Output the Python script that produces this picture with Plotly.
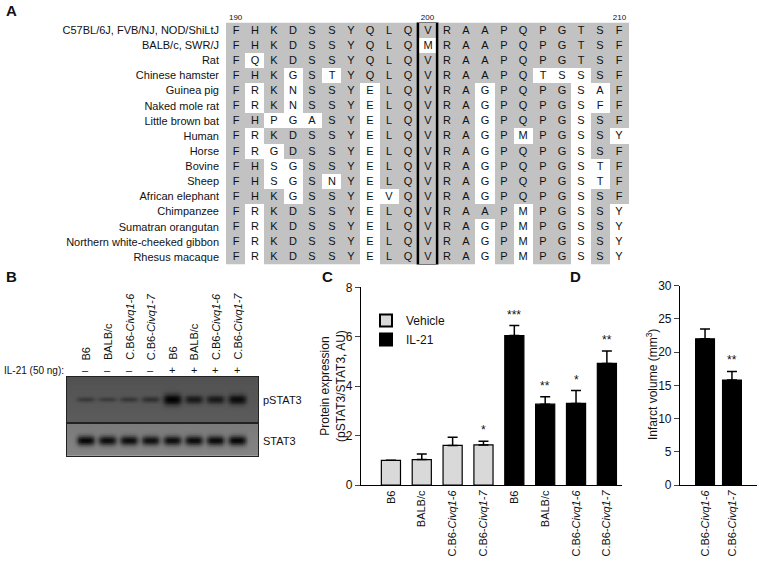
import numpy as np
import plotly.graph_objects as go

W, H = 759, 569
FONT = "Arial, Liberation Sans, sans-serif"

# ---------------- Panel A data ----------------
positions = list(range(190, 211))
pos_labels = ["190", "200", "210"]
species = [
    "C57BL/6J, FVB/NJ, NOD/ShiLtJ", "BALB/c, SWR/J", "Rat", "Chinese hamster",
    "Guinea pig", "Naked mole rat", "Little brown bat", "Human", "Horse",
    "Bovine", "Sheep", "African elephant", "Chimpanzee", "Sumatran orangutan",
    "Northern white-cheeked gibbon", "Rhesus macaque",
]
sequences = [
    "FHKDSSYQLQVRAAPQPGTSF",
    "FHKDSSYQLQMRAAPQPGTSF",
    "FQKDSSYQLQVRAAPQPGTSF",
    "FHKGSTYQLQVRAAPQTSSSF",
    "FRKNSSYELQVRAGPQPGSAF",
    "FRKNSSYELQVRAGPQPGSFF",
    "FHPGASYELQVRAGPQPGSSF",
    "FRKDSSYELQVRAGPMPGSSY",
    "FRGDSSYELQVRAGPQPGSSF",
    "FHSGSSYELQVRAGPQPGSTF",
    "FHSGSNYELQVRAGPQPGSTF",
    "FHKGSSYEVQVRAGPQPGSSF",
    "FRKDSSYELQVRAAPMPGSSY",
    "FRKDSSYELQVRAGPMPGSSY",
    "FRKDSSYELQVRAGPMPGSSY",
    "FRKDSSYELQVRAGPMPGSSY",
]
highlight_pos = 200

# ---------------- Panel B data ----------------
lane_labels = ["B6", "BALB/c", "C.B6-<i>Civq1-6</i>", "C.B6-<i>Civq1-7</i>",
               "B6", "BALB/c", "C.B6-<i>Civq1-6</i>", "C.B6-<i>Civq1-7</i>"]
il21_treat = ["–", "–", "–", "–", "+", "+", "+", "+"]
pstat3_intensity = [0.35, 0.32, 0.38, 0.45, 1.0, 0.72, 0.72, 0.88]
stat3_intensity = [0.95, 0.9, 0.9, 0.88, 0.9, 0.92, 0.92, 0.95]

# ---------------- Panel C data ----------------
c_labels = lane_labels
vehicle_vals = [1.0, 1.03, 1.6, 1.62]
vehicle_err = [0.0, 0.22, 0.33, 0.15]
vehicle_sig = ["", "", "", "*"]
il21_vals = [6.05, 3.27, 3.3, 4.92]
il21_err = [0.4, 0.3, 0.52, 0.5]
il21_sig = ["***", "**", "*", "**"]

# ---------------- Panel D data ----------------
d_labels = ["C.B6-<i>Civq1-6</i>", "C.B6-<i>Civq1-7</i>"]
d_vals = [22.0, 15.8]
d_err = [1.5, 1.3]
d_sig = ["", "**"]


def px_x(p):
    return p / W


def px_y(p):
    return 1 - p / H


fig = go.Figure()

# ---------- A: alignment ----------
ref = sequences[0]
z = [[1 if s[j] == ref[j] else 0 for j in range(len(ref))] for s in sequences]
txt = [[ch for ch in s] for s in sequences]
ncol = len(positions)
nrow = len(species)
fig.add_trace(go.Heatmap(
    z=z, x=list(range(ncol)), y=list(range(nrow)), text=txt,
    texttemplate="%{text}", textfont=dict(size=11, color="#111", family=FONT),
    colorscale=[[0, "white"], [1, "#c2c2c2"]], zmin=0, zmax=1,
    showscale=False, hoverinfo="skip", xaxis="x", yaxis="y",
))
hi = positions.index(highlight_pos)
fig.add_shape(type="rect", xref="x", yref="y", x0=hi - 0.5, x1=hi + 0.5,
              y0=-0.55, y1=nrow - 0.45, line=dict(color="black", width=2.5))

# ---------- B: blot ----------
lanes = np.arange(len(lane_labels))
xs = np.linspace(-0.88, 7.97, 300)
ys = np.linspace(0, 1, 80)
X, Y = np.meshgrid(xs, ys)


def blot(intens, yc, bg, base_h, k_h):
    Z = np.full_like(X, bg) + 0.04 * (Y - 0.5)
    for i, a in zip(lanes, intens):
        sy = base_h + k_h * a
        Z += (1 - bg) * a * np.exp(-((X - i) / 0.42) ** 4) * np.exp(-((Y - yc) / sy) ** 2)
    return np.clip(Z, 0, 1)


Zp = blot(pstat3_intensity, 0.5, 0.66, 0.02, 0.1)
Zs = blot(stat3_intensity, 0.47, 0.5, 0.06, 0.1)
for Zm, xa, ya in [(Zp, "x2", "y2"), (Zs, "x3", "y3")]:
    fig.add_trace(go.Heatmap(
        z=Zm, x=xs, y=ys, colorscale=[[0, "#ffffff"], [1, "#000000"]],
        zmin=0, zmax=1, showscale=False, hoverinfo="skip", xaxis=xa, yaxis=ya,
    ))


def note(x, y, text, xref="paper", yref="paper", size=11, **kw):
    base = dict(x=x, y=y, xref=xref, yref=yref, text=text, showarrow=False,
                xanchor="center", yanchor="middle",
                font=dict(size=size, family=FONT, color="#111"))
    base.update(kw)
    fig.add_annotation(**base)


for i, lab in enumerate(lane_labels):
    note(i, px_y(362), lab, xref="x2", textangle=-90, yanchor="bottom")
    note(i, px_y(370), il21_treat[i], xref="x2")
note(px_x(66), px_y(370), "IL-21 (50 ng):", size=10, xanchor="right")
note(px_x(261), px_y(400), "pSTAT3", xanchor="left")
note(px_x(261), px_y(441), "STAT3", xanchor="left")

# ---------- C: bar chart ----------
nv = len(vehicle_vals)
xv = list(range(nv))
xi = list(range(nv, nv + len(il21_vals)))
fig.add_trace(go.Bar(
    x=xv, y=vehicle_vals, name="Vehicle", width=0.62,
    marker=dict(color="#d9d9d9", line=dict(color="black", width=1.2)),
    error_y=dict(type="data", array=vehicle_err, arrayminus=[0] * nv,
                 symmetric=False, thickness=1.5, width=5, color="black"),
    xaxis="x4", yaxis="y4",
))
fig.add_trace(go.Bar(
    x=xi, y=il21_vals, name="IL-21", width=0.62,
    marker=dict(color="black", line=dict(color="black", width=1.2)),
    error_y=dict(type="data", array=il21_err, arrayminus=[0] * len(il21_vals),
                 symmetric=False, thickness=1.5, width=5, color="black"),
    xaxis="x4", yaxis="y4",
))
for xx, v, e, s in zip(xv + xi, vehicle_vals + il21_vals, vehicle_err + il21_err,
                       vehicle_sig + il21_sig):
    if s:
        note(xx, v + e, s, xref="x4", yref="y4", size=12, yanchor="bottom", yshift=2)
note(px_x(333), px_y(386), "Protein expression<br>(pSTAT3/STAT3, AU)", size=12,
     textangle=-90)

# ---------- D: bar chart ----------
xd = list(range(len(d_vals)))
fig.add_trace(go.Bar(
    x=xd, y=d_vals, width=0.7, showlegend=False,
    marker=dict(color="black", line=dict(color="black", width=1.2)),
    error_y=dict(type="data", array=d_err, arrayminus=[0] * len(d_vals),
                 symmetric=False, thickness=1.5, width=5, color="black"),
    xaxis="x5", yaxis="y5",
))
for xx, v, e, s in zip(xd, d_vals, d_err, d_sig):
    if s:
        note(xx, v + e, s, xref="x5", yref="y5", size=12, yanchor="bottom", yshift=2)
note(px_x(652), px_y(385), "Infarct volume (mm<sup>3</sup>)", size=12, textangle=-90)

# panel letters
for letter, lx, ly in [("A", 11, 11), ("B", 11, 277), ("C", 327, 277), ("D", 575, 277)]:
    note(px_x(lx), px_y(ly), f"<b>{letter}</b>", size=15)

blot_ax = dict(showgrid=False, zeroline=False, showticklabels=False, ticks="",
               showline=True, mirror=True, linecolor="#222", linewidth=1)

fig.update_layout(
    width=W, height=H, margin=dict(l=0, r=0, t=0, b=0),
    paper_bgcolor="white", plot_bgcolor="white",
    font=dict(family=FONT, color="#111"),
    barmode="overlay",
    xaxis=dict(domain=[px_x(226), px_x(629)], range=[-0.5, ncol - 0.5],
               side="top", tickmode="array",
               tickvals=[positions.index(int(p)) for p in pos_labels],
               ticktext=pos_labels, tickfont=dict(size=8), ticks="",
               showgrid=False, zeroline=False, anchor="y", automargin=False),
    yaxis=dict(domain=[px_y(264.5), px_y(22.5)], range=[nrow - 0.5, -0.5],
               tickmode="array", tickvals=list(range(nrow)), ticktext=species,
               tickfont=dict(size=11), ticks="", ticklabelstandoff=6,
               showgrid=False, zeroline=False, anchor="x", automargin=False),
    xaxis2=dict(domain=[px_x(67), px_x(258)], range=[-0.88, 7.97], anchor="y2", **blot_ax),
    yaxis2=dict(domain=[px_y(422), px_y(377)], range=[0, 1], anchor="x2", **blot_ax),
    xaxis3=dict(domain=[px_x(67), px_x(258)], range=[-0.88, 7.97], anchor="y3", **blot_ax),
    yaxis3=dict(domain=[px_y(456), px_y(424)], range=[0, 1], anchor="x3", **blot_ax),
    xaxis4=dict(domain=[px_x(361), px_x(622)], range=[-0.97, 7.49], anchor="y4",
                tickmode="array", tickvals=xv + xi, ticktext=c_labels, tickangle=-90,
                tickfont=dict(size=11), ticks="", showline=True, linecolor="black",
                linewidth=1.2, showgrid=False, zeroline=False, automargin=False),
    yaxis4=dict(domain=[px_y(485), px_y(287.3)], range=[0, 8], anchor="x4",
                tickvals=[0, 2, 4, 6, 8], ticks="outside", ticklen=5, tickwidth=1.2,
                tickfont=dict(size=12), showline=True, linecolor="black",
                linewidth=1.2, showgrid=False, zeroline=False, automargin=False),
    xaxis5=dict(domain=[px_x(680), px_x(757)], range=[-0.93, 1.93], anchor="y5",
                tickmode="array", tickvals=xd, ticktext=d_labels, tickangle=-90,
                tickfont=dict(size=11), ticks="", showline=True, linecolor="black",
                linewidth=1.2, showgrid=False, zeroline=False, automargin=False),
    yaxis5=dict(domain=[px_y(485), px_y(285.7)], range=[0, 30], anchor="x5",
                tickvals=[0, 5, 10, 15, 20, 25, 30], ticks="outside", ticklen=5,
                tickwidth=1.2, tickfont=dict(size=12), showline=True,
                linecolor="black", linewidth=1.2, showgrid=False, zeroline=False,
                automargin=False),
    showlegend=True,
    legend=dict(x=px_x(366), y=px_y(306), xanchor="left", yanchor="top",
                bgcolor="rgba(0,0,0,0)", font=dict(size=12), tracegroupgap=0,
                itemsizing="constant"),
)

fig.write_html("out.html", config={"displayModeBar": False},
               post_script="document.body.style.margin='0';")
